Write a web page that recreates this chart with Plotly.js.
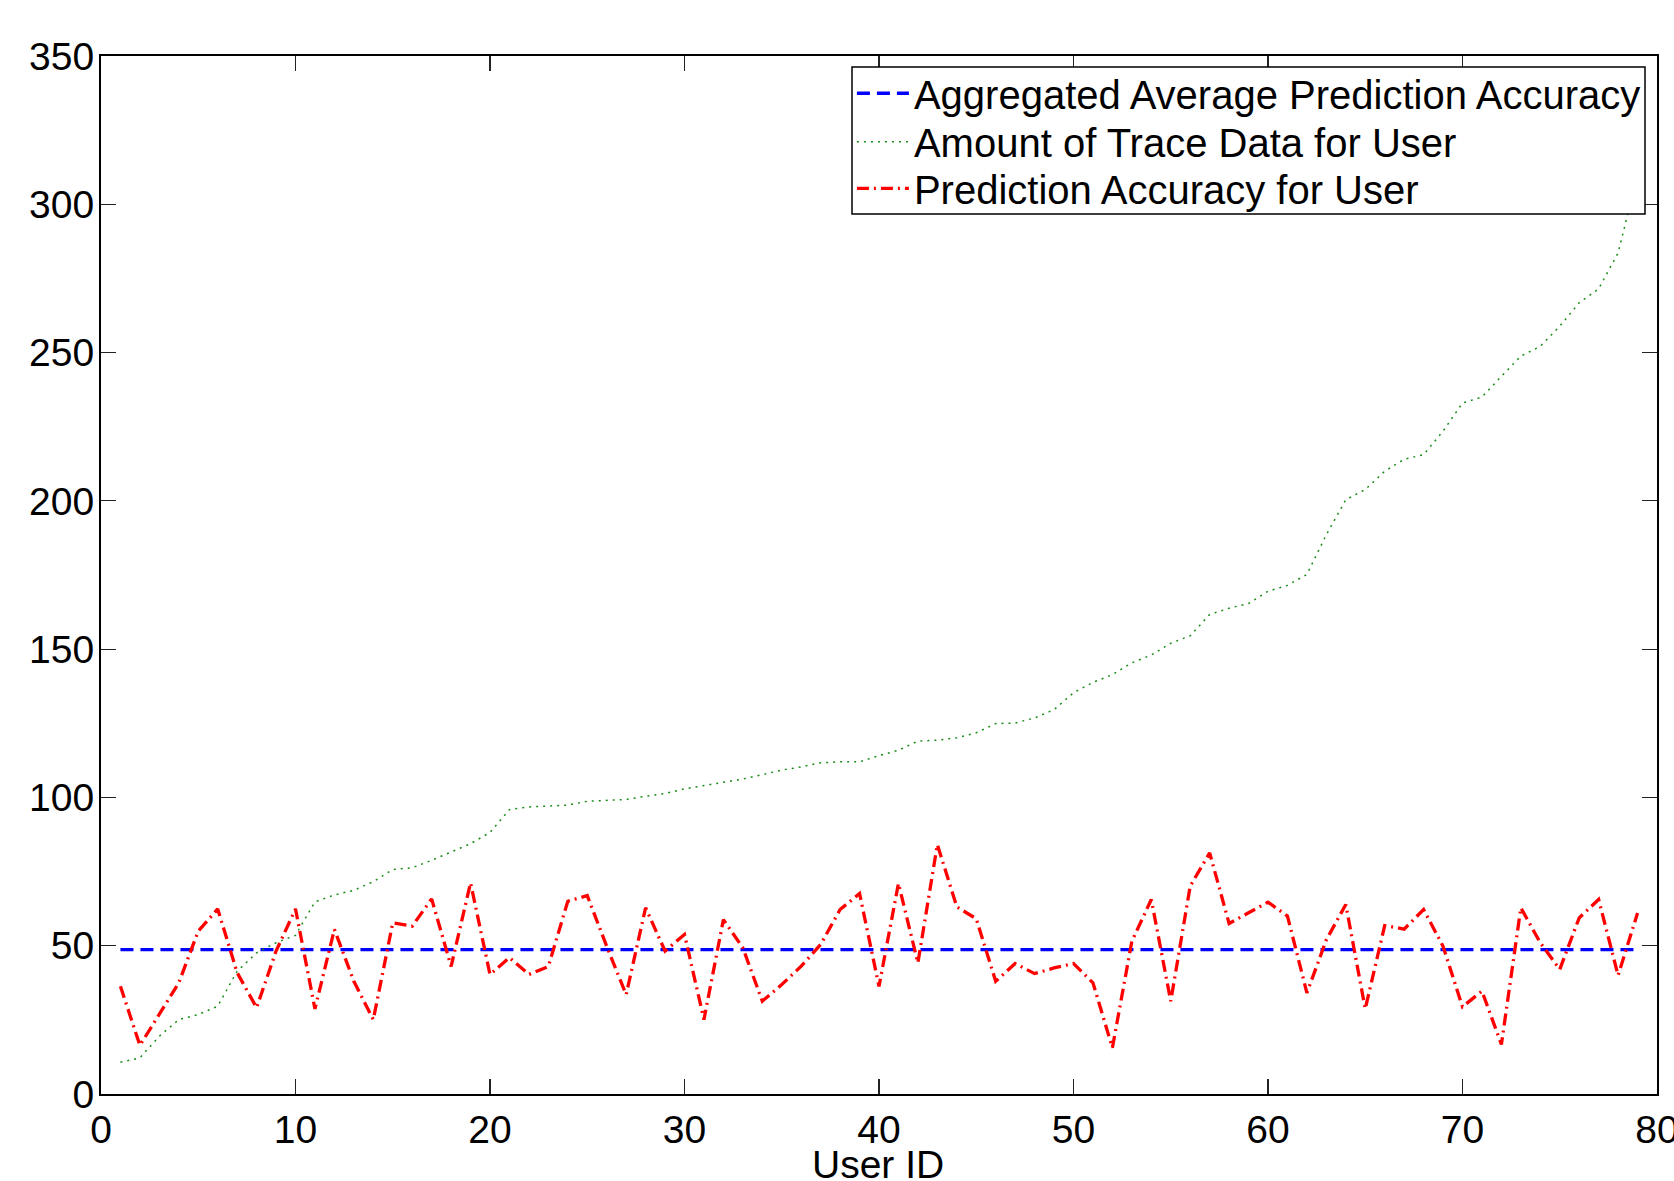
<!DOCTYPE html>
<html>
<head>
<meta charset="utf-8">
<script src="https://cdn.plot.ly/plotly-3.0.1.min.js"></script>
<style>
  html, body { margin: 0; padding: 0; background: #ffffff; }
  #chart { width: 1674px; height: 1181px; }
</style>
</head>
<body>
<div id="chart"></div>
<script>
// ---- Data ----
const userIds = [
  1, 2, 3, 4, 5, 6, 7, 8, 9, 10,
  11, 12, 13, 14, 15, 16, 17, 18, 19, 20,
  21, 22, 23, 24, 25, 26, 27, 28, 29, 30,
  31, 32, 33, 34, 35, 36, 37, 38, 39, 40,
  41, 42, 43, 44, 45, 46, 47, 48, 49, 50,
  51, 52, 53, 54, 55, 56, 57, 58, 59, 60,
  61, 62, 63, 64, 65, 66, 67, 68, 69, 70,
  71, 72, 73, 74, 75, 76, 77, 78, 79
];

const traceDataAmount = [
  10.7, 12.2, 19.5, 25.1, 26.8, 29.6, 41.4, 47.6, 51, 53.5,
  64.8, 67.1, 68.7, 71.6, 75.7, 76.3, 78.8, 81.7, 84.4, 88.2,
  95.9, 96.8, 97, 97.4, 98.7, 99, 99.3, 100.4, 101.3, 102.9,
  104, 105.1, 106.2, 107.7, 109.2, 110.3, 111.7, 112, 112, 114.1,
  115.9, 119, 119.3, 120.1, 121.8, 124.9, 125.1, 126.8, 129.6, 135.3,
  138.8, 141.4, 145.4, 148, 152, 154.5, 161.7, 163.8, 165.4, 169.5,
  171.5, 175.2, 188.6, 200.4, 203.8, 210, 214, 215.6, 223.5, 233,
  235, 242, 248.8, 252.1, 258.9, 266.8, 271.5, 283.6, 310
];

const userAccuracy = [
  36.3, 16.4, 26.9, 37.5, 54.9, 62.4, 40.9, 29.1, 48.2, 62.4,
  28.7, 55.5, 38, 25.1, 57.7, 56.6, 65.8, 43, 71.2, 40.3,
  46, 40.3, 43, 65, 66.9, 49.8, 33.5, 62.8, 48.2, 53.8,
  25.1, 58.8, 49.3, 31.3, 36.9, 43.1, 50.4, 62.2, 67.6, 36.3,
  71, 44.2, 84.1, 63.1, 59.1, 38, 44, 40.6, 42.5, 44,
  37.5, 15.6, 51.5, 65.6, 31.3, 70.1, 81.3, 57.5, 61.1, 64.7,
  60, 34.1, 52, 63.9, 28.7, 56.8, 55.6, 62.2, 49.8, 29.4,
  34.7, 16.7, 62.8, 51, 42, 59.4, 65.6, 40, 61
];

const avgAccuracyX = [1, 79];
const avgAccuracyY = [48.7, 48.7];

const seriesNames = [
  'Aggregated Average Prediction Accuracy',
  'Amount of Trace Data for User',
  'Prediction Accuracy for User'
];

const xAxisTitle = 'User ID';
const xTickVals = [0, 10, 20, 30, 40, 50, 60, 70, 80];
const yTickVals = [0, 50, 100, 150, 200, 250, 300, 350];

// ---- Styling ----
const FONT = 'Liberation Sans, Arial, Helvetica, sans-serif';
const LEGEND_FONT = { family: FONT, size: 40, color: '#000000' };

const traces = [
  {
    x: avgAccuracyX, y: avgAccuracyY, name: seriesNames[0],
    type: 'scatter', mode: 'lines', legend: 'legend',
    line: { color: '#0000ff', width: 3.3, dash: '13px,7px' }
  },
  {
    x: userIds, y: traceDataAmount, name: seriesNames[1],
    type: 'scatter', mode: 'lines', legend: 'legend2',
    line: { color: '#1a8c1a', width: 1.5, dash: '2px,5px' }
  },
  {
    x: userIds, y: userAccuracy, name: seriesNames[2],
    type: 'scatter', mode: 'lines', legend: 'legend3',
    line: { color: '#ff0000', width: 3.3, dash: '12px,5px,2px,5px' }
  }
];

const axisCommon = {
  showgrid: false,
  zeroline: false,
  showline: true,
  linecolor: '#000000',
  linewidth: 2,
  mirror: 'ticks',
  ticks: 'inside',
  ticklen: 15,
  tickwidth: 1.2,
  tickcolor: '#222222',
  tickfont: { family: FONT, size: 39, color: '#000000' }
};

function legendAt(yCenter) {
  return {
    x: 0.4826, y: yCenter, xanchor: 'left', yanchor: 'middle',
    bgcolor: 'rgba(0,0,0,0)', borderwidth: 0,
    font: LEGEND_FONT,
    itemwidth: 52
  };
}

const layout = {
  width: 1674,
  height: 1181,
  paper_bgcolor: '#ffffff',
  plot_bgcolor: '#ffffff',
  margin: { l: 101, r: 17, t: 56, b: 87 },
  font: { family: FONT, size: 39, color: '#000000' },
  showlegend: true,
  legend: legendAt(0.9641),
  legend2: legendAt(0.9174),
  legend3: legendAt(0.8725),
  shapes: [
    {
      type: 'rect', xref: 'paper', yref: 'paper', layer: 'above',
      x0: 0.48265, x1: 0.99229, y0: 0.8478, y1: 0.9894,
      fillcolor: '#ffffff', line: { color: '#000000', width: 1.5 }
    }
  ],
  annotations: [
    {
      text: xAxisTitle, xref: 'paper', yref: 'paper',
      x: 0.4995, y: -0.0675, xanchor: 'center', yanchor: 'middle',
      showarrow: false, font: { family: FONT, size: 39, color: '#000000' }
    }
  ],
  xaxis: Object.assign({}, axisCommon, {
    range: [0, 80],
    tickmode: 'array',
    tickvals: xTickVals,
    ticktext: xTickVals.map(String),
    ticklabeloverflow: 'allow'
  }),
  yaxis: Object.assign({}, axisCommon, {
    range: [0, 350],
    tickmode: 'array',
    tickvals: yTickVals,
    ticktext: yTickVals.map(String),
    ticklabelstandoff: -3
  })
};

Plotly.newPlot('chart', traces, layout, { displayModeBar: false, staticPlot: true });
</script>
</body>
</html>
